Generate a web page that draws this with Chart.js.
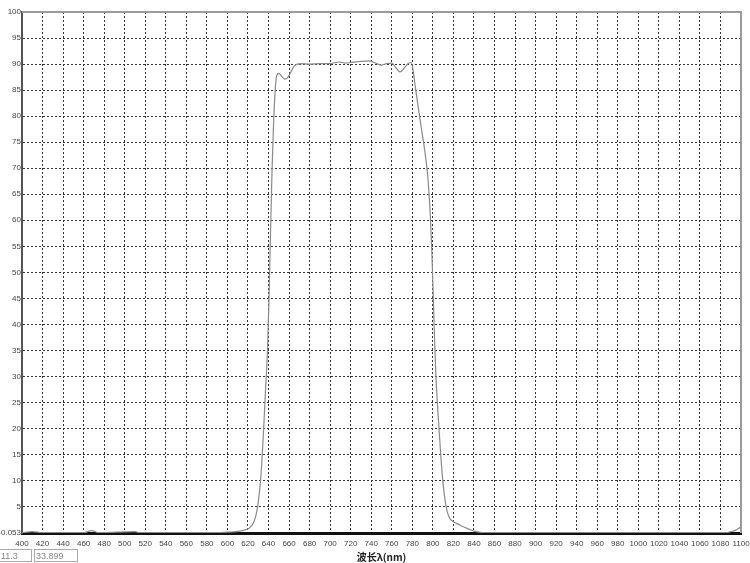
<!DOCTYPE html>
<html>
<head>
<meta charset="utf-8">
<script src="https://cdn.jsdelivr.net/npm/chart.js@4.4.1/dist/chart.umd.min.js"></script>
<style>
  html, body { margin: 0; background: #fff; overflow: hidden; }
  #wrap { position: relative; width: 750px; height: 563px; }
  #grafico { display: block; }
  .box {
    position: absolute; top: 549px; height: 13px; border: 1px solid #aaa;
    font: 9px "Liberation Sans", sans-serif;
    color: #888; line-height: 12px; padding-left: 1px; box-sizing: border-box;
  }
</style>
</head>
<body>
<div id="wrap">
  <canvas id="grafico"></canvas>
  <div class="box" style="left:-1px; width:33px;">11.3</div>
  <div class="box" style="left:34px; width:44px;">33.899</div>
</div>
<script>
// lunghezze d'onda (nm) e trasmittanza (%)
var wavelengths = [400, 410, 420, 460, 468, 475, 510, 515, 590, 600, 605, 612, 618, 622, 626, 629, 631, 633, 635, 637, 639, 640.5, 642, 643.5, 645, 646.5, 648, 650, 653, 656, 659, 662, 665, 668, 672, 680, 690, 700, 709, 715, 720, 730, 738, 744, 750, 755, 760, 764, 768, 772, 776, 779, 781, 783, 787, 792, 795, 797.5, 799, 800, 801.5, 803, 805, 808, 811, 814, 817, 820, 825, 830, 835, 840, 845, 850, 1085, 1090, 1095, 1100];
var transmittance = [0, 0.2, 0, 0, 0.4, 0, 0.2, 0, 0, 0.1, 0.15, 0.3, 0.6, 1.0, 2.2, 4.5, 7.5, 12, 19, 27, 35, 45, 58, 70, 79, 85, 87.8, 88.2, 87.6, 87.1, 87.5, 88.6, 89.6, 90.0, 90.1, 90.0, 90.1, 90.1, 90.4, 90.2, 90.3, 90.5, 90.6, 90.2, 89.8, 90.1, 90.2, 89.3, 88.5, 89.2, 90.1, 90.3, 88.5, 85.5, 80, 73.5, 68.5, 61, 54, 48, 38, 30, 23, 14, 7.5, 4, 2.6, 2.1, 1.6, 1.1, 0.7, 0.3, 0.1, 0, 0, 0.2, 0.5, 1.1];

var yTicks = [-0.053, 5, 10, 15, 20, 25, 30, 35, 40, 45, 50, 55, 60, 65, 70, 75, 80, 85, 90, 95, 100];
var xTicks = [400, 420, 440, 460, 480, 500, 520, 540, 560, 580, 600, 620, 640, 660, 680, 700, 720, 740, 760, 780, 800, 820, 840, 860, 880, 900, 920, 940, 960, 980, 1000, 1020, 1040, 1060, 1080, 1100];
var xTitle = '波长λ(nm)';

var punti = [];
for (var i = 0; i < wavelengths.length; i++) {
  punti.push({x: wavelengths[i], y: transmittance[i]});
}

var fontTick = {family: '"Liberation Sans", sans-serif', size: 8};

// etichette senza separatore delle migliaia
function etichetta(value) {
  return String(value);
}

// bordo superiore e destro del riquadro
var bordoRiquadro = {
  id: 'bordoRiquadro',
  beforeDatasetsDraw: function(chart) {
    var a = chart.chartArea;
    var ctx = chart.ctx;
    ctx.save();
    ctx.strokeStyle = '#9a9a9a';
    ctx.lineWidth = 2;
    ctx.beginPath();
    ctx.moveTo(a.left, a.top);
    ctx.lineTo(a.right, a.top);
    ctx.lineTo(a.right, a.bottom);
    ctx.stroke();
    ctx.restore();
  }
};

var ctx = document.getElementById('grafico');
var chart = new Chart(ctx, {
  type: 'line',
  data: {
    datasets: [{
      data: punti,
      borderColor: '#8a8a8a',
      borderWidth: 1.2,
      pointRadius: 0,
      cubicInterpolationMode: 'monotone',
      fill: false
    }]
  },
  options: {
    responsive: true,
    maintainAspectRatio: false,
    animation: false,
    layout: {
      autoPadding: false,
      padding: {top: 12, right: 9, left: 0, bottom: 0}
    },
    plugins: {
      legend: {display: false},
      tooltip: {enabled: false}
    },
    scales: {
      x: {
        type: 'linear',
        min: 400,
        max: 1100,
        afterBuildTicks: function(scale) {
          scale.ticks = xTicks.map(function(v) { return {value: v}; });
        },
        afterFit: function(scale) {
          scale.height = 30;
          // niente spazio extra per le etichette agli estremi
          scale.paddingLeft = 0;
          scale.paddingRight = 0;
        },
        ticks: {
          color: '#444',
          font: fontTick,
          padding: 6,
          maxRotation: 0,
          autoSkip: false,
          callback: etichetta
        },
        grid: {color: '#333', lineWidth: 1, drawTicks: false},
        border: {color: '#111', width: 3, dash: [2, 2]},
        title: {
          display: true,
          text: xTitle,
          color: '#222',
          font: {family: '"Noto Sans CJK SC", sans-serif', size: 10, weight: 'bold'},
          padding: {top: 0, bottom: 0}
        }
      },
      y: {
        min: -0.053,
        max: 100,
        afterBuildTicks: function(scale) {
          scale.ticks = yTicks.map(function(v) { return {value: v}; });
        },
        afterFit: function(scale) {
          scale.width = 22;
          scale.paddingTop = 0;
          scale.paddingBottom = 0;
        },
        ticks: {
          color: '#444',
          font: fontTick,
          padding: 1,
          autoSkip: false,
          callback: etichetta
        },
        grid: {color: '#333', lineWidth: 1, drawTicks: false},
        border: {color: '#555', width: 2, dash: [2, 2]}
      }
    }
  },
  plugins: [bordoRiquadro]
});
</script>
</body>
</html>
